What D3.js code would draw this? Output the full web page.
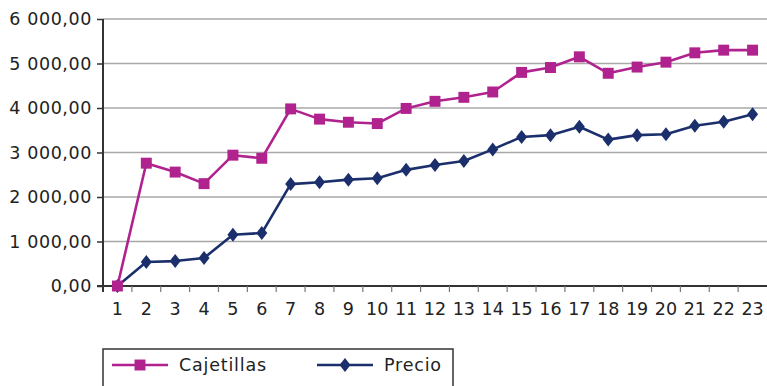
<!DOCTYPE html>
<html>
<head>
<meta charset="utf-8">
<script src="https://cdn.jsdelivr.net/npm/d3@7"></script>
<style>
  body { margin: 0; background: #fff; }
  svg { display: block; font-family: "DejaVu Sans", Verdana, sans-serif; }
</style>
</head>
<body>
<div id="chart"></div>
<script>
// data
const categories = d3.range(1, 24).map(String);
const cajetillas = [0, 2760, 2560, 2300, 2940, 2870, 3980, 3750, 3680, 3650, 3990, 4150, 4240, 4360,
                    4800, 4910, 5150, 4780, 4920, 5030, 5240, 5300, 5300];
const precio = [0, 540, 560, 630, 1150, 1190, 2290, 2330, 2390, 2420, 2610, 2720, 2810, 3070,
                3350, 3390, 3580, 3290, 3390, 3410, 3600, 3690, 3860];
const yTicks = [0, 1000, 2000, 3000, 4000, 5000, 6000];
const seriesNames = ['Cajetillas', 'Precio'];

const width = 767, height = 386;
const margin = {top: 19, right: 0, bottom: 100, left: 103};
const colCaj = '#b0238f', colPre = '#1b2f6c';

const svg = d3.select('#chart').append('svg')
  .attr('width', width)
  .attr('height', height);

const x = d3.scaleBand()
  .domain(categories)
  .range([margin.left, width - margin.right]);

const y = d3.scaleLinear()
  .domain([0, 6000])
  .range([height - margin.bottom, margin.top]);

const fmt = v => d3.format(',.2f')(v).replace(/,/g, ' ').replace('.', ',');

// gridlines
svg.append('g')
  .selectAll('line')
  .data(yTicks.slice(1))
  .join('line')
    .attr('x1', margin.left)
    .attr('x2', width)
    .attr('y1', d => y(d))
    .attr('y2', d => y(d))
    .attr('stroke', '#a8a8a8')
    .attr('stroke-width', 1.5);

// y axis
const yAxis = svg.append('g')
  .attr('transform', `translate(${margin.left},0)`)
  .call(d3.axisLeft(y).tickValues(yTicks).tickFormat(fmt).tickSize(6).tickPadding(5))
  .call(g => g.select('.domain').attr('stroke', '#333').attr('stroke-width', 2)
      .attr('d', `M0,${y(6000)}V${y(0) + 6}`));
yAxis.selectAll('.tick line').attr('stroke', '#333').attr('stroke-width', 1.5);
yAxis.selectAll('text')
  .attr('font-size', 17.5)
  .attr('letter-spacing', 0.6)
  .attr('fill', '#222')
  .attr('font-family', '"DejaVu Sans", Verdana, sans-serif');

// x axis
const xAxis = svg.append('g')
  .attr('transform', `translate(0,${y(0)})`)
  .call(d3.axisBottom(x).tickSize(0).tickPadding(17))
  .call(g => g.select('.domain').attr('stroke', '#333').attr('stroke-width', 2)
      .attr('d', `M${margin.left - 6},0H${width}`));
xAxis.selectAll('text')
  .attr('font-size', 17.5)
  .attr('fill', '#222')
  .attr('font-family', '"DejaVu Sans", Verdana, sans-serif');

// x tick marks at category boundaries
svg.append('g')
  .selectAll('line')
  .data(categories.slice(1))
  .join('line')
    .attr('x1', d => x(d))
    .attr('x2', d => x(d))
    .attr('y1', y(0))
    .attr('y2', y(0) + 6)
    .attr('stroke', '#777')
    .attr('stroke-width', 1.2);

const line = d3.line()
  .x((d, i) => x(categories[i]) + x.bandwidth() / 2)
  .y(d => y(d));

function drawSeries(values, color, shape) {
  svg.append('path')
    .datum(values)
    .attr('fill', 'none')
    .attr('stroke', color)
    .attr('stroke-width', 2.6)
    .attr('stroke-linejoin', 'round')
    .attr('d', line);
  svg.append('g')
    .selectAll('path')
    .data(values)
    .join('path')
      .attr('transform', (d, i) => `translate(${x(categories[i]) + x.bandwidth() / 2},${y(d)})`)
      .attr('d', shape)
      .attr('fill', color);
}

const square = d3.symbol(d3.symbolSquare, 120)();
const diamond = 'M0,-7L5.5,0L0,7L-5.5,0Z';

drawSeries(precio, colPre, diamond);
drawSeries(cajetillas, colCaj, square);

// legend
const legend = svg.append('g');
legend.append('rect')
  .attr('x', 103)
  .attr('y', 349)
  .attr('width', 350)
  .attr('height', 50)
  .attr('fill', '#fff')
  .attr('stroke', '#333')
  .attr('stroke-width', 1.5);

const legendItems = [
  {name: seriesNames[0], color: colCaj, shape: square, x0: 112},
  {name: seriesNames[1], color: colPre, shape: diamond, x0: 317}
];
const li = legend.selectAll('g.item')
  .data(legendItems)
  .join('g')
    .attr('class', 'item')
    .attr('transform', d => `translate(${d.x0},365)`);
li.append('line')
  .attr('x1', 0).attr('x2', 56)
  .attr('stroke', d => d.color)
  .attr('stroke-width', 2.6);
li.append('path')
  .attr('transform', 'translate(28,0)')
  .attr('d', d => d.shape)
  .attr('fill', d => d.color);
li.append('text')
  .attr('x', 67)
  .attr('dy', '0.35em')
  .attr('font-size', 17.5)
  .attr('letter-spacing', 0.8)
  .attr('fill', '#222')
  .text(d => d.name);
</script>
</body>
</html>
